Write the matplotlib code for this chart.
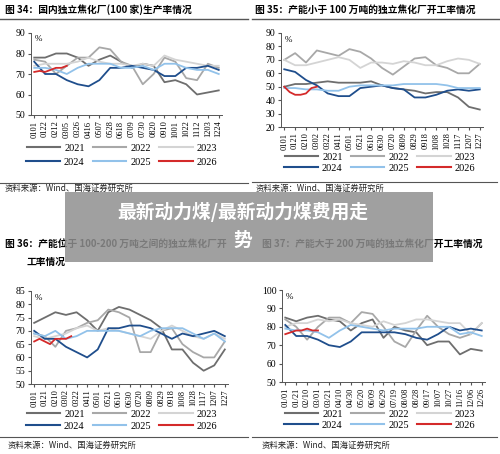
import matplotlib
matplotlib.use("Agg")
import matplotlib.pyplot as plt
import numpy as np
from matplotlib.patches import Rectangle
from matplotlib.lines import Line2D

plt.rcParams['font.family'] = ['Noto Sans CJK SC', 'DejaVu Sans']

years = ["2021", "2022", "2023", "2024", "2025", "2026"]
colors = ["#6e6e6e", "#a8a8a8", "#d4d4d4", "#1f4e8c", "#92c2ea", "#d42a2a"]

ticks1 = ["0101","0122","0212","0305","0326","0416","0507","0528","0618","0709","0730","0820","0910","1001","1022","1112","1203","1224"]
p1 = [
    [78,78,80,80,78,74,77,79,76,73,75,74,66,67,65,60,61,62],
    [77,76,70,74,78,78,83,82,76,74,65,70,78,76,68,67,75,73],
    [74,75,75,75,76,78,76,75,75,74,75,74,79,77,76,75,74,74],
    [76,70,70,67,65,64,67,73,73,74,73,72,69,69,73,73,74,72],
    [73,73,72,70,73,75,75,75,73,73,74,72,75,75,73,72,72,70],
    [71,71.5,71,72,73,73,74],
]
ticks2 = ["0101","0121","0210","0302","0322","0411","0501","0521","0610","0630","0720","0809","0829","0918","1008","1028","1117","1207","1227"]
p2 = [
    [50,52,52,53,54,53,53,53,54,51,49,48,47,45,46,46,42,35,33],
    [70,75,68,77,75,73,78,76,71,64,59,65,71,72,66,64,60,60,67],
    [70,66,66,68,70,72,70,64,68,68,67,69,68,66,66,69,71,70,67],
    [63,61,55,51,45,43,43,49,50,51,49,48,42,42,44,47,48,47,48],
    [49,49,48,48,47,47,50,51,51,51,51,52,52,52,52,51,49,49,49],
    [50,46,44,44,45,49,50],
]
ticks3 = ticks2
p3 = [
    [73,75,77,76,77,74,70,77,79,78,76,74,71,63,63,58,55,57,63],
    [69,68,64,70,71,73,74,78,77,75,62,62,70,71,65,62,60,60,66],
    [68,67,68,69,71,72,70,71,70,69,68,67,70,72,70,68,67,69,67],
    [70,67,67,64,62,60,63,71,71,72,72,71,69,67,69,68,69,70,68],
    [69,68,70,67,68,70,70,70,70,69,68,70,71,71,71,69,67,69,66],
    [66,67,66,65,67,67,67,68],
]
ticks4 = ["01/01","01/21","02/10","03/01","03/21","04/10","04/30","05/20","06/09","06/29","07/19","08/08","08/28","09/17","10/07","10/27","11/16","12/06","12/26"]
p4 = [
    [85,83,85,86,84,83,78,82,84,74,80,78,77,70,72,72,65,68,67],
    [84,80,73,80,85,85,82,88,87,80,72,69,78,86,80,76,74,76,82],
    [80,82,82,84,83,84,82,81,80,83,81,82,84,84,83,82,82,76,82],
    [81,75,75,73,70,69,72,77,77,77,77,76,74,73,76,80,78,79,78],
    [79,78,78,77,74,78,81,80,79,78,79,79,79,80,80,80,76,77,75],
    [76,77,78,78,79,78,78],
]

W, H = 500, 454
fig = plt.figure(figsize=(5, 4.54), dpi=100)

def fx(px): return px / W
def fy(py): return 1 - py / H

serif = "Liberation Serif"

def panel(l, r, t, b, ticks, data, ylim, ystep):
    ax = fig.add_axes([fx(l), fy(b), fx(r - l), fy(t) - fy(b)])
    n = len(ticks)
    for i, (vals, c) in enumerate(zip(data, colors)):
        x = np.arange(len(vals)) * (0.5 if i == 5 else 1)
        ax.plot(x, vals, color=c, lw=1.3, zorder=3 + (i == 5))
    ax.set_xlim(-0.3, n - 0.7)
    ax.set_ylim(*ylim)
    ax.set_yticks(np.arange(ylim[0], ylim[1] + 0.1, ystep))
    ax.set_xticks(range(n))
    ax.set_xticklabels(ticks, rotation=90, fontfamily=serif, fontsize=6)
    for lb in ax.get_yticklabels():
        lb.set_fontfamily(serif)
        lb.set_fontsize(7)
    ax.tick_params(length=2, pad=2, color="#555")
    for s in ("top", "right"):
        ax.spines[s].set_visible(False)
    for s in ("left", "bottom"):
        ax.spines[s].set_color("#555")
        ax.spines[s].set_linewidth(0.7)
    ax.text(0.02, 0.97, "%", transform=ax.transAxes, fontsize=6.5, fontfamily=serif, va="top")
    return ax

def legend(cx, y1, y2):
    h = [Line2D([], [], color=c, lw=1.5) for c in colors]
    kw = dict(loc="center", ncol=3, frameon=False, prop={"family": serif, "size": 7.5},
              handlelength=3.2, columnspacing=0.8, handletextpad=0.4, borderpad=0, borderaxespad=0)
    fig.legend(h[:3], years[:3], bbox_to_anchor=(fx(cx), fy(y1)), **kw)
    fig.legend(h[3:], years[3:], bbox_to_anchor=(fx(cx), fy(y2)), **kw)

def hline(x0, x1, y, lw=0.8):
    fig.add_artist(Line2D([fx(x0), fx(x1)], [fy(y), fy(y)], color="#555", lw=lw))

panel(31, 222, 33, 115, ticks1, p1, (50, 90), 10)
panel(281, 483, 33, 127, ticks2, p2, (20, 90), 10)
panel(31, 228, 291, 384, ticks3, p3, (50, 85), 5)
panel(282, 485, 290, 382, ticks4, p4, (50, 100), 10)

tk = dict(fontsize=7, fontweight="bold", va="center")
fig.text(fx(5), fy(10), "图 34：国内独立焦化厂(100 家)生产率情况", **tk)
fig.text(fx(255), fy(10), "图 35：产能小于 100 万吨的独立焦化厂开工率情况", **tk)
fig.text(fx(5), fy(244), "图 36：产能位于 100-200 万吨之间的独立焦化厂开", **tk)
fig.text(fx(27), fy(262), "工率情况", **tk)
fig.text(fx(262), fy(244), "图 37：产能大于 200 万吨的独立焦化厂开工率情况", **tk)
hline(0, 248, 19, 1.0)
hline(252, 500, 19, 1.0)

legend(122, 148, 162)
legend(380, 157, 168)
legend(122, 414, 426)
legend(380, 414, 425)

hline(0, 248, 183)
hline(252, 497, 182)
hline(0, 248, 437)
hline(252, 497, 437)
sk = dict(fontsize=6, va="center", color="#222")
fig.text(fx(5), fy(188), "资料来源：Wind、国海证券研究所", **sk)
fig.text(fx(256), fy(188), "资料来源：Wind、国海证券研究所", **sk)
fig.text(fx(8), fy(445), "资料来源：Wind、国海证券研究所", **sk)
fig.text(fx(262), fy(445), "资料来源：Wind、国海证券研究所", **sk)

fig.add_artist(Rectangle((fx(65), fy(262)), fx(433 - 65), fy(192) - fy(262),
                         facecolor="#8f8f8f", alpha=0.85, edgecolor="none", zorder=10))
fig.text(fx(243), fy(212), "最新动力煤/最新动力煤费用走", fontsize=13.5, fontweight="bold",
         color="white", ha="center", va="center", zorder=11)
fig.text(fx(243), fy(240), "势", fontsize=13.5, fontweight="bold",
         color="white", ha="center", va="center", zorder=11)

fig.savefig("out.png", dpi=100)
